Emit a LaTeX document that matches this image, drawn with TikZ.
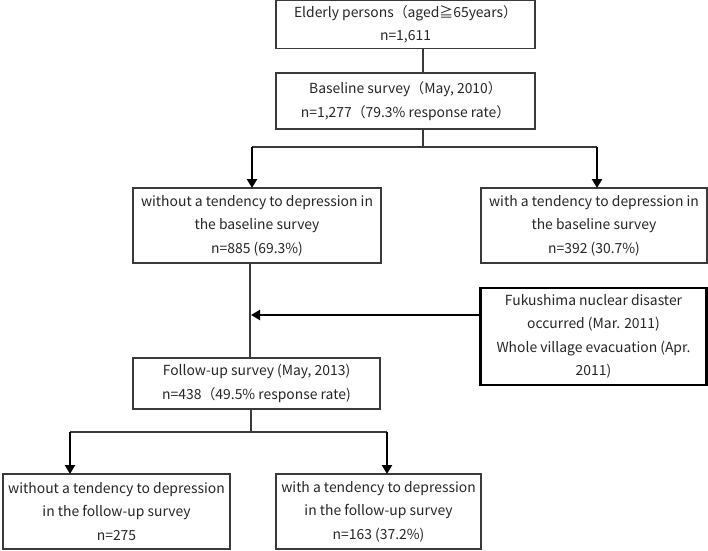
\documentclass[tikz,border=0pt]{standalone}
\usepackage{fontspec}
\setmainfont{Noto Sans CJK JP}
\usepackage{tikz}
\usetikzlibrary{arrows.meta, positioning}
\definecolor{boxgray}{HTML}{3A3A3A}
\definecolor{txtgray}{HTML}{262626}

\begin{document}
\begin{tikzpicture}
  [
    x=1pt, y=-1pt,
    Box/.style={rectangle, draw=boxgray, line width=1.2pt, inner sep=0pt, outer sep=0pt,
      align=center, text=txtgray, font=\fontsize{13.9}{23.5}\selectfont},
    Event/.style={Box, draw=black, line width=2.5pt},
    Line/.style={draw=boxgray, line width=1.2pt},
    Arrow/.style={draw=black, line width=2.4pt, -{Triangle[length=9pt, width=10pt]}}
  ]
  \useasboundingbox (0,0) rectangle (708,550);

  % Nodes
  \node[Box, minimum width=259pt, minimum height=48pt] (elderly) at (405.5, 24.5)
    {Elderly persons（aged≧65years）\\ n=1,611};
  \node[Box, minimum width=259pt, minimum height=56pt] (baseline) at (405.5, 101)
    {Baseline survey（May, 2010）\\ n=1,277（79.3\% response rate）};

  \node[Box, minimum width=248pt, minimum height=75pt] (noDepBase) at (257, 225.5)
    {without a tendency to depression in\\ the baseline survey\\ n=885 (69.3\%)};
  \node[Box, minimum width=226pt, minimum height=75pt] (depBase) at (594, 225.5)
    {with a tendency to depression in\\ the baseline survey\\ n=392 (30.7\%)};

  \node[Event, minimum width=226pt, minimum height=97pt] (disaster) at (593.5, 336.5)
    {Fukushima nuclear disaster\\ occurred (Mar. 2011)\\ Whole village evacuation (Apr.\\ 2011)};

  \node[Box, minimum width=247pt, minimum height=51pt] (followup) at (256.5, 383.5)
    {Follow-up survey (May, 2013)\\ n=438（49.5\% response rate)};

  \node[Box, minimum width=227pt, minimum height=75pt] (noDepFollow) at (116.5, 511.5)
    {without a tendency to depression\\ in the follow-up survey\\ n=275};
  \node[Box, minimum width=205pt, minimum height=75pt] (depFollow) at (378.5, 511.5)
    {with a tendency to depression\\ in the follow-up survey\\ n=163 (37.2\%)};

  % Branch points
  \coordinate (split1) at (423, 147);
  \coordinate (left1) at (252, 147);
  \coordinate (right1) at (597, 147);
  \coordinate (trunk) at (250, 315);
  \coordinate (split2) at (251, 432);
  \coordinate (left2) at (70, 432);
  \coordinate (right2) at (387, 432);

  % Lines
  \path [Line] (elderly.south -| split1) -- (baseline.north -| split1);
  \path [Line] (baseline.south -| split1) -- (split1);
  \path [Line] (left1) -- (right1);
  \path [Arrow] (left1) -- (noDepBase.north -| left1);
  \path [Arrow] (right1) -- (depBase.north -| right1);

  \path [Line] (noDepBase.south -| trunk) -- (followup.north -| trunk);
  \path [Arrow, shorten >=1pt] (disaster.west |- trunk) -- (trunk);

  \path [Line] (followup.south -| split2) -- (split2);
  \path [Line] (left2) -- (right2);
  \path [Arrow] (left2) -- (noDepFollow.north -| left2);
  \path [Arrow] (right2) -- (depFollow.north -| right2);

\end{tikzpicture}
\end{document}
